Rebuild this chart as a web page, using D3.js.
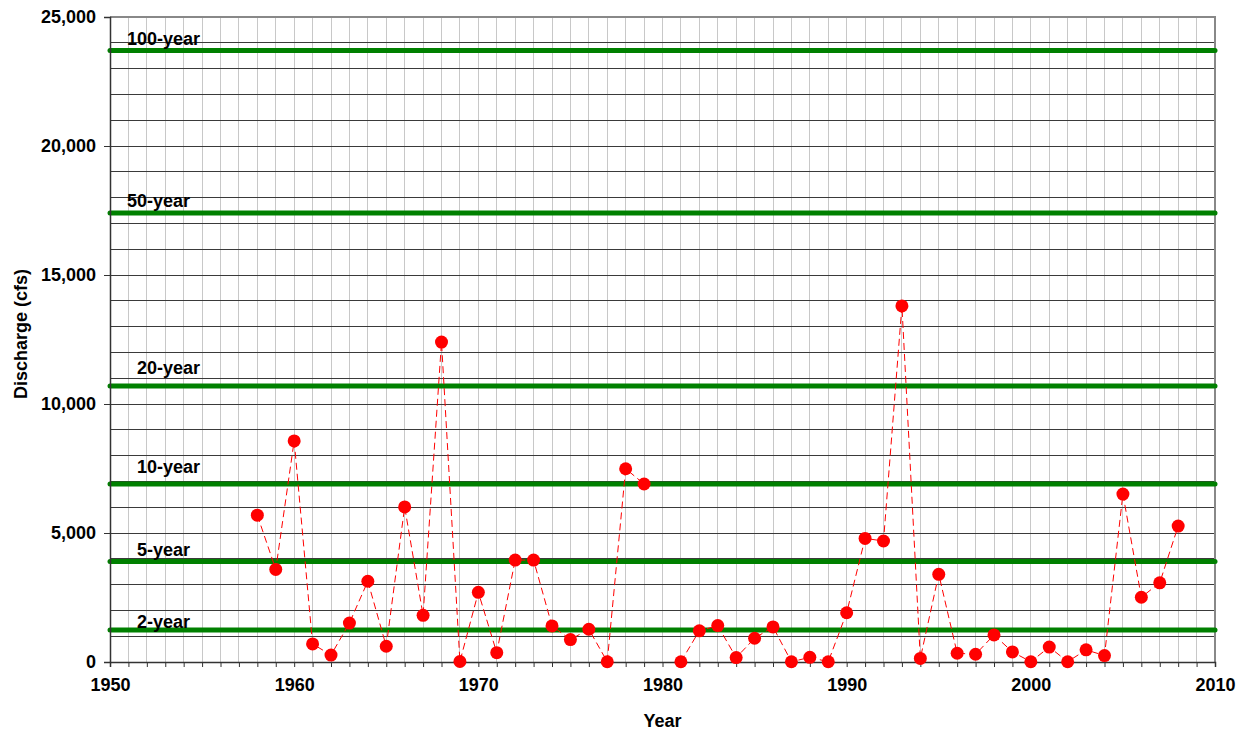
<!DOCTYPE html>
<html>
<head>
<meta charset="utf-8">
<script src="https://cdn.jsdelivr.net/npm/d3@7"></script>
<style>
  html, body { margin: 0; padding: 0; background: #fff; }
  svg text { font-family: "Liberation Sans", Arial, sans-serif; font-weight: bold; fill: #000; }
</style>
</head>
<body>
<svg id="chart" width="1247" height="734"></svg>
<script>
// Annual peak discharge (cfs), 1958-2008 (no record for 1980)
const years = [1958,1959,1960,1961,1962,1963,1964,1965,1966,1967,1968,1969,1970,
  1971,1972,1973,1974,1975,1976,1977,1978,1979,1980,1981,1982,1983,1984,1985,1986,
  1987,1988,1989,1990,1991,1992,1993,1994,1995,1996,1997,1998,1999,2000,2001,2002,
  2003,2004,2005,2006,2007,2008];
const discharge = [5690,3590,8570,700,270,1510,3130,610,6010,1810,12400,20,2700,
  360,3950,3950,1400,870,1270,10,7490,6900,null,10,1210,1410,170,920,1360,
  10,180,10,1910,4790,4690,13800,140,3400,340,300,1050,390,10,580,10,
  470,250,6510,2510,3070,5270];

// Flood-frequency reference levels (cfs)
const returnLabels = ["100-year","50-year","20-year","10-year","5-year","2-year"];
const returnValues = [23700,17400,10700,6900,3900,1240];

const xTicks = [1950,1960,1970,1980,1990,2000,2010];
const yTicks = [0,5000,10000,15000,20000,25000];

const W = 1247, H = 734;
const margin = {top: 17, right: 32, bottom: 72, left: 110};
const iw = W - margin.left - margin.right;
const ih = H - margin.top - margin.bottom;

const svg = d3.select("#chart");
const g = svg.append("g").attr("transform", `translate(${margin.left},${margin.top})`);

const x = d3.scaleLinear().domain([1950, 2010]).range([0, iw]);
const y = d3.scaleLinear().domain([0, 25000]).range([ih, 0]);

// vertical grid: one line per year
g.append("g").selectAll("line")
  .data(d3.range(1951, 2010))
  .join("line")
  .attr("x1", d => x(d)).attr("x2", d => x(d))
  .attr("y1", 0).attr("y2", ih)
  .attr("stroke", "#c8c8c8").attr("stroke-width", 1)
  .attr("shape-rendering", "crispEdges");

// horizontal grid: every 1,000 cfs
g.append("g").selectAll("line")
  .data(d3.range(1000, 25000, 1000))
  .join("line")
  .attr("x1", 0).attr("x2", iw)
  .attr("y1", d => y(d)).attr("y2", d => y(d))
  .attr("stroke", "#3a3a3a").attr("stroke-width", 1)
  .attr("shape-rendering", "crispEdges");

// top and right plot border
g.append("path")
  .attr("d", `M0,${y(25000)}H${iw}V${ih}`)
  .attr("fill", "none").attr("stroke", "#888").attr("stroke-width", 1.5)
  .attr("shape-rendering", "crispEdges");

// return-period lines
g.append("g").selectAll("line")
  .data(returnValues)
  .join("line")
  .attr("x1", 0).attr("x2", iw)
  .attr("y1", d => y(d)).attr("y2", d => y(d))
  .attr("stroke", "#008000").attr("stroke-width", 5)
  .attr("stroke-linecap", "round");

// label placement tweaks (dx, baseline lift in px)
const labelDx = [17, 17, 27, 27, 27, 27];
const labelLift = [6, 6, 12, 11, 5, 2];
g.append("g").selectAll("text")
  .data(returnLabels)
  .join("text")
  .attr("x", (d, i) => labelDx[i])
  .attr("y", (d, i) => y(returnValues[i]) - labelLift[i])
  .attr("font-size", 18)
  .text(d => d);

// axes
const xAxis = d3.axisBottom(x)
  .tickValues(d3.range(1950, 2011))
  .tickSize(5)
  .tickFormat(d => xTicks.includes(d) ? d3.format("d")(d) : "");
const gx = g.append("g").attr("transform", `translate(0,${ih})`).call(xAxis);
gx.select(".domain").attr("stroke", "#333").attr("stroke-width", 1.5);
gx.selectAll(".tick line").attr("stroke", "#333");
gx.selectAll(".tick text").attr("font-size", 18).attr("dy", "1.15em")
  .attr("font-family", "Liberation Sans, Arial, sans-serif").attr("font-weight", "bold");

const yAxis = d3.axisLeft(y)
  .tickValues(yTicks)
  .tickSize(6)
  .tickPadding(8)
  .tickFormat(d3.format(","));
const gy = g.append("g").call(yAxis);
gy.select(".domain").attr("stroke", "#333").attr("stroke-width", 1.5);
gy.selectAll(".tick line").attr("stroke", "#333");
gy.selectAll(".tick text").attr("font-size", 18)
  .attr("font-family", "Liberation Sans, Arial, sans-serif").attr("font-weight", "bold");

// axis titles
svg.append("text")
  .attr("x", margin.left + iw / 2).attr("y", 727)
  .attr("text-anchor", "middle").attr("font-size", 18)
  .text("Year");
svg.append("text")
  .attr("transform", `translate(27,334) rotate(-90)`)
  .attr("text-anchor", "middle").attr("font-size", 18)
  .text("Discharge (cfs)");

// series
const pts = years.map((yr, i) => ({yr, v: discharge[i]}));
const line = d3.line()
  .defined(d => d.v !== null)
  .x(d => x(d.yr)).y(d => y(d.v));
g.append("path")
  .datum(pts)
  .attr("d", line)
  .attr("fill", "none").attr("stroke", "#ff0000")
  .attr("stroke-width", 1).attr("stroke-dasharray", "7,4");

g.append("g").selectAll("circle")
  .data(pts.filter(d => d.v !== null))
  .join("circle")
  .attr("cx", d => x(d.yr)).attr("cy", d => y(d.v))
  .attr("r", 6.5)
  .attr("fill", "#ff0000");
</script>
</body>
</html>
